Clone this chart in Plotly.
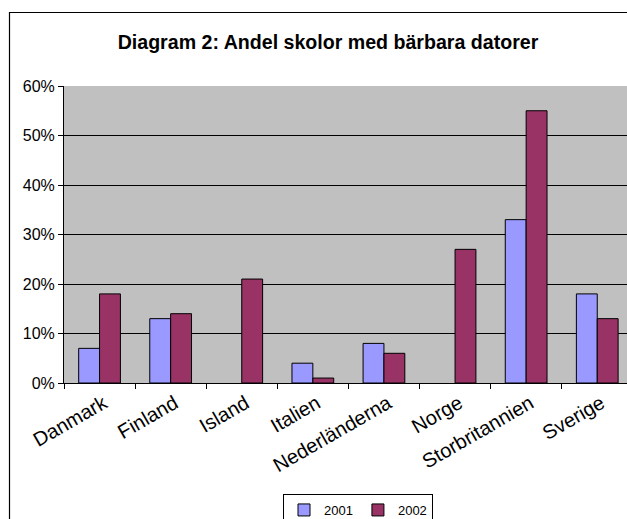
import plotly.graph_objects as go

countries = ["Danmark", "Finland", "Island", "Italien", "Nederländerna",
             "Norge", "Storbritannien", "Sverige"]
values_2001 = [0.07, 0.13, None, 0.04, 0.08, None, 0.33, 0.18]
values_2002 = [0.18, 0.14, 0.21, 0.01, 0.06, 0.27, 0.55, 0.13]
series_names = ["2001", "2002"]
y_ticks = [0, 0.1, 0.2, 0.3, 0.4, 0.5, 0.6]
y_tick_labels = ["0%", "10%", "20%", "30%", "40%", "50%", "60%"]

FONT = "Liberation Sans, Arial, sans-serif"
W, H = 627, 519
L, R, T, B = 64, 0, 86, 136
plot_w = W - L - R
plot_h = H - T - B
cat_px = 71.1

fig = go.Figure()
fig.add_trace(go.Bar(x=countries, y=values_2001, name=series_names[0],
                     marker=dict(color="#9999FF", line=dict(color="black", width=1))))
fig.add_trace(go.Bar(x=countries, y=values_2002, name=series_names[1],
                     marker=dict(color="#993366", line=dict(color="black", width=1))))

fig.update_layout(
    width=W, height=H,
    margin=dict(l=L, r=R, t=T, b=B, pad=0, autoexpand=False),
    paper_bgcolor="white",
    plot_bgcolor="#C0C0C0",
    barmode="group",
    bargap=0.413,
    bargroupgap=0,
    font=dict(family=FONT, color="black"),
    title=dict(text="<b>Diagram 2: Andel skolor med bärbara datorer</b>",
               font=dict(family=FONT, size=19.6, color="black"),
               x=328 / W, xref="container", xanchor="center",
               y=1 - 42 / H, yref="container", yanchor="middle"),
    xaxis=dict(
        type="category",
        automargin=False,
        range=[-0.5, -0.5 + plot_w / cat_px],
        tickson="boundaries",
        ticks="outside", ticklen=5, tickcolor="black", tickwidth=1,
        showline=True, linecolor="black", linewidth=1,
        showgrid=False,
        tickangle=-30,
        tickfont=dict(family=FONT, size=20, color="black"),
        ticklabelshift=4,
    ),
    yaxis=dict(
        automargin=False,
        range=[0, 0.6],
        tickvals=y_ticks, ticktext=y_tick_labels,
        ticks="outside", ticklen=5, tickcolor="black", tickwidth=1,
        showline=True, linecolor="black", linewidth=1,
        showgrid=True, gridcolor="black", gridwidth=1,
        zeroline=False,
        tickfont=dict(family=FONT, size=16, color="black"),
    ),
    legend=dict(
        orientation="h",
        x=(358 - L) / plot_w, xanchor="center",
        y=-(494 - (H - B)) / plot_h, yanchor="top",
        bordercolor="black", borderwidth=1,
        font=dict(family=FONT, size=13, color="black"),
        itemwidth=30,
        tracegroupgap=0,
    ),
    showlegend=True,
)

# outer chart border
fig.add_shape(type="rect", xref="paper", yref="paper",
              x0=(9.5 - L) / plot_w, x1=(W + 20 - L) / plot_w,
              y0=-(H + 20 - (H - B)) / plot_h, y1=1 + (T - 12.5) / plot_h,
              line=dict(color="black", width=1.2), fillcolor="rgba(0,0,0,0)",
              layer="below")

fig.write_html("out.html",
               config={"displayModeBar": False},
               post_script="document.body.style.margin='0';document.body.style.overflow='hidden';")
